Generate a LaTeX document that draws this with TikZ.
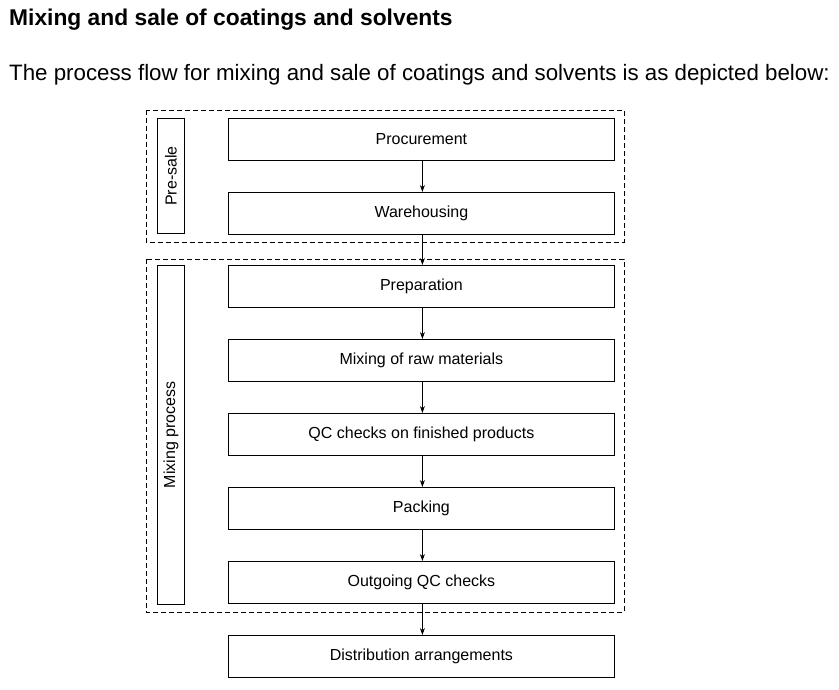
\documentclass[tikz,border=0pt]{standalone}
\usepackage{fontspec}
\setmainfont{Liberation Sans}
\usetikzlibrary{arrows.meta}
\begin{document}
\begin{tikzpicture}[x=1pt,y=-1pt,
 proc/.style={draw,line width=0.8pt,minimum width=386pt,minimum height=42pt,anchor=north west,inner sep=0pt,font=\fontsize{16}{18}\selectfont},
 side/.style={draw,line width=0.8pt,anchor=north west,inner sep=0pt},
 grp/.style={draw,line width=0.8pt,dash pattern=on 5pt off 3pt},
 arr/.style={-{Stealth[length=7pt,width=5pt]},line width=0.8pt}]
\useasboundingbox (0,0) rectangle (839,690);
\node[anchor=west,inner sep=0pt,font=\bfseries\fontsize{22.8}{26}\selectfont] (title) at (9,20) {Mixing and sale of coatings and solvents};
\node[anchor=west,inner sep=0pt,font=\fontsize{22.3}{26}\selectfont] (sub) at (9,75) {The process flow for mixing and sale of coatings and solvents is as depicted below:};
\draw[grp] (146,110) rectangle (624,242);
\draw[grp] (146,259) rectangle (624,612);
\node[side,minimum width=27pt,minimum height=115pt] (ps) at (157,118) {};
\node[rotate=90,font=\fontsize{16}{18}\selectfont] at (ps.center) {Pre-sale};
\node[side,minimum width=27pt,minimum height=339pt] (mp) at (157,265) {};
\node[rotate=90,font=\fontsize{16}{18}\selectfont] at (mp.center) {Mixing process};
\node[proc] (a) at (228,118) {Procurement};
\node[proc] (b) at (228,192) {Warehousing};
\node[proc] (c) at (228,265) {Preparation};
\node[proc] (d) at (228,339) {Mixing of raw materials};
\node[proc] (e) at (228,413) {QC checks on finished products};
\node[proc] (f) at (228,487) {Packing};
\node[proc] (g) at (228,561) {Outgoing QC checks};
\node[proc] (h) at (228,635) {Distribution arrangements};
\foreach \u/\v in {a/b,b/c,c/d,d/e,e/f,f/g,g/h}
  \draw[arr] ([xshift=1pt]\u.south) -- ([xshift=1pt]\v.north);
\end{tikzpicture}
\end{document}
